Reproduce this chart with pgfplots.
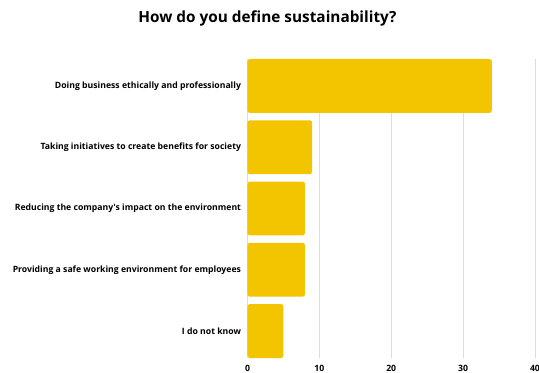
\documentclass[border=0pt]{standalone}
\usepackage{pgfplots}
\pgfplotsset{compat=1.18}
\usepackage{fontspec}
\setmainfont{Open Sans}
\definecolor{baryellow}{RGB}{242,197,0}
\definecolor{gridgray}{RGB}{220,220,220}
\begin{document}
\begin{tikzpicture}
\useasboundingbox (-247.5bp,-15bp) rectangle (291.5bp,358bp);
\clip (-247.5bp,-15bp) rectangle (291.5bp,358bp);
\begin{axis}[
  scale only axis,
  width=287.5bp, height=299bp,
  at={(0,0)}, anchor=south west,
  xbar, bar width=0.88,
  xmin=0, xmax=40,
  ymin=-0.44, ymax=4.44,
  y dir=reverse,
  ytick={0,1,2,3,4},
  yticklabels={Doing business ethically and professionally,
               Taking initiatives to create benefits for society,
               Reducing the company\textquotesingle s impact on the environment,
               Providing a safe working environment for employees,
               I do not know},
  xtick={0,10,20,30,40},
  axis line style={draw=none},
  major tick length=0pt,
  xmajorgrids, ymajorgrids=false,
  grid style={gridgray, line width=0.8pt},
  tick label style={font=\fontsize{8.7}{10}\selectfont\bfseries},
  yticklabel style={xshift=-3bp},
  xticklabel style={yshift=-4bp},
  /pgf/number format/assume math mode=true,
  clip=false,
]
\addplot[fill=baryellow, draw=none, rounded corners=2.5pt] coordinates {
  (34,0) (9,1) (8,2) (8,3) (5,4)
};
\end{axis}
\node[font=\fontsize{15.4}{18}\selectfont\bfseries, anchor=center] at (20bp,340bp) {How do you define sustainability?};
\end{tikzpicture}
\end{document}
